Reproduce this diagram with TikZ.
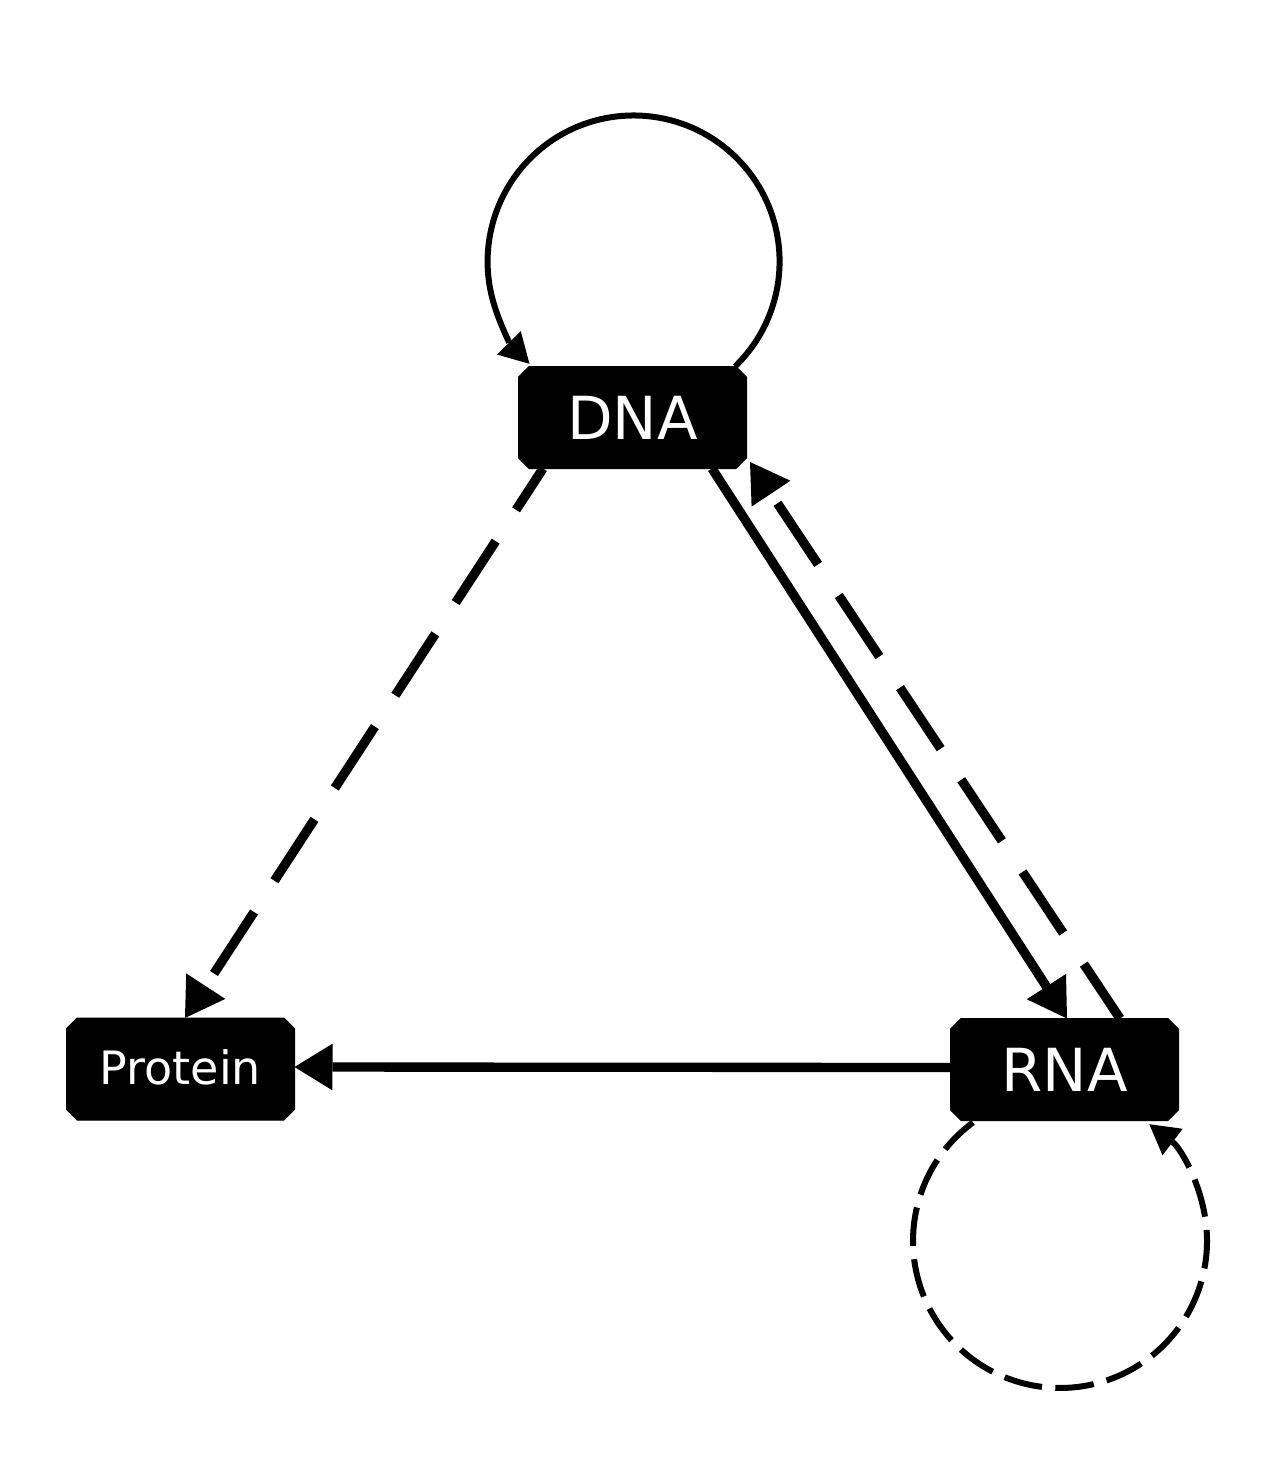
\documentclass[tikz,border=0pt]{standalone}
\usepackage{fontspec}
\setmainfont{DejaVu Sans}
\usetikzlibrary{arrows.meta,shapes.misc}
\tikzset{
  box/.style={chamfered rectangle, chamfered rectangle xsep=4pt, chamfered rectangle ysep=4pt,
    fill=black, draw=black, line width=0.75pt, text=white, inner sep=0pt, outer sep=0pt,
    minimum width=171pt, minimum height=76.5pt},
  bigtxt/.style={font=\fontsize{44.5}{44.5}\selectfont},
  smalltxt/.style={font=\fontsize{34.5}{34.5}\selectfont},
  edge/.style={line width=7pt, -{Triangle[length=28.5pt,width=35pt,line width=0pt]}},
  loopedge/.style={line width=4.5pt, -{Triangle[length=22pt,width=25pt,line width=0pt]}},
  longdash/.style={dash pattern=on 55pt off 28pt},
  shortdash/.style={dash pattern=on 29pt off 10pt},
}
\begin{document}
\begin{tikzpicture}[x=0.75pt,y=-0.75pt]
\useasboundingbox (0,0) rectangle (1280,1482);
\fill[white] (0,0) rectangle (1280,1482);

\node[box,bigtxt] (DNA) at (632.5,417.5) {DNA};
\node[box,smalltxt] (Protein) at (180.5,1069) {\raisebox{3pt}{Protein}};
\node[box,bigtxt] (RNA) at (1064.5,1069.5) {RNA};

\draw[edge,longdash,dash phase=18pt] ([shift={(-89.5,0)}]DNA.south) -- ([shift={(4.5,0)}]Protein.north);
\draw[edge] ([shift={(79.5,0)}]DNA.south) -- ([shift={(2.5,0)}]RNA.north);
\draw[edge,longdash,dash phase=6pt] ([shift={(55.5,0)}]RNA.north) -- ([shift={(117.5,44.5)}]DNA.center);
\draw[edge] ([shift={(0,-2)}]RNA.west) -- ([shift={(0,-2)}]Protein.east);

\draw[loopedge] ([shift={(102.5,0)}]DNA.north) arc[start angle=46, end angle=-224.5, radius=146];
\draw[loopedge,shortdash] ([shift={(-91.5,2)}]RNA.south) arc[start angle=-126.3, end angle=-412.6, radius=147];
\end{tikzpicture}
\end{document}
